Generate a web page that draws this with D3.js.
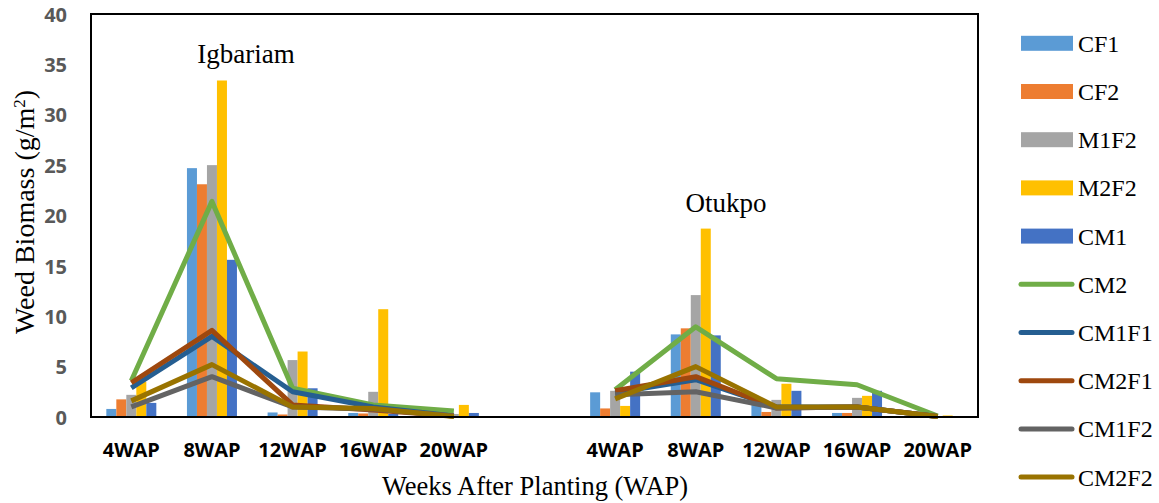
<!DOCTYPE html>
<html><head><meta charset="utf-8">
<script src="https://cdn.jsdelivr.net/npm/d3@7"></script>
<style>body{margin:0;background:#fff}</style></head>
<body><svg id="c" width="1159" height="503"></svg>
<script>
// ---- data ----
const categories = ["4WAP","8WAP","12WAP","16WAP","20WAP","","4WAP","8WAP","12WAP","16WAP","20WAP"];
const siteLabels = ["Igbariam","Otukpo"];
const yTicks = [0,5,10,15,20,25,30,35,40];

const barNames = ["CF1","CF2","M1F2","M2F2","CM1"];
const CF1  = [0.8, 24.7, 0.45, 0.4, 0.1, null, 2.45, 8.2, 1.3, 0.4, 0.05];
const CF2  = [1.75, 23.1, 0.25, 0.35, 0.1, null, 0.85, 8.8, 0.5, 0.4, 0.05];
const M1F2 = [2.2, 25.0, 5.65, 2.5, 0.3, null, 2.6, 12.1, 1.7, 1.9, 0.1];
const M2F2 = [3.5, 33.4, 6.5, 10.7, 1.2, null, 1.1, 18.7, 3.3, 2.1, 0.15];
const CM1  = [1.4, 15.6, 2.85, 0.3, 0.4, null, 4.5, 8.1, 2.6, 2.6, 0.05];

const lineNames = ["CM2","CM1F1","CM2F1","CM1F2","CM2F2"];
const CM2   = [3.6, 21.4, 2.85, 1.2, 0.6, null, 2.7, 8.95, 3.8, 3.2, 0.1];
const CM1F1 = [2.9, 8.0, 2.5, 1.0, 0.1, null, 2.4, 3.7, 1.0, 1.0, 0.05];
const CM2F1 = [3.4, 8.6, 1.2, 0.7, 0.1, null, 2.6, 4.0, 0.9, 1.0, 0.05];
const CM1F2 = [1.0, 4.0, 1.0, 0.8, 0.1, null, 2.2, 2.5, 0.9, 1.0, 0.05];
const CM2F2 = [1.6, 5.2, 1.0, 0.85, 0.05, null, 1.8, 5.0, 1.0, 1.0, 0.05];

const barColors  = ["#5B9BD5","#ED7D31","#A5A5A5","#FFC000","#4472C4"];
const lineColors = ["#70AD47","#255E91","#9E480E","#636363","#997300"];

const barSeries = [CF1,CF2,M1F2,M2F2,CM1].map((v,i)=>({name:barNames[i],values:v,color:barColors[i]}));
const lineSeries = [CM2,CM1F1,CM2F1,CM1F2,CM2F2].map((v,i)=>({name:lineNames[i],values:v,color:lineColors[i]}));

// ---- layout ----
const svg = d3.select("#c");
const m = {left:91, right:978, top:14, bottom:417};
const x = d3.scaleBand().domain(d3.range(categories.length)).range([m.left,m.right]).padding(0);
const groupW = x.bandwidth()*0.62;
const x1 = d3.scaleBand().domain(barNames).range([0,groupW]);
const y = d3.scaleLinear().domain([0,40]).range([m.bottom,m.top]);

// bars
const gBars = svg.append("g");
barSeries.forEach(s=>{
  gBars.append("g").selectAll("rect")
    .data(s.values.map((v,i)=>({v,i})).filter(d=>d.v!=null))
    .join("rect")
    .attr("x", d=>x(d.i)+(x.bandwidth()-groupW)/2+x1(s.name))
    .attr("width", x1.bandwidth())
    .attr("y", d=>y(d.v))
    .attr("height", d=>y(0)-y(d.v))
    .attr("fill", s.color);
});

// lines
const line = d3.line()
  .defined(d=>d.v!=null)
  .x(d=>x(d.i)+x.bandwidth()/2)
  .y(d=>y(d.v));
lineSeries.forEach(s=>{
  svg.append("path")
    .datum(s.values.map((v,i)=>({v,i})))
    .attr("d", line)
    .attr("fill","none")
    .attr("stroke", s.color)
    .attr("stroke-width", 5)
    .attr("stroke-linejoin","round");
});

// frame
svg.append("rect").attr("x",m.left).attr("y",m.top)
  .attr("width",m.right-m.left).attr("height",m.bottom-m.top)
  .attr("fill","none").attr("stroke","#000").attr("stroke-width",2);

// y axis
const ya = svg.append("g").attr("transform",`translate(${m.left},0)`)
  .call(d3.axisLeft(y).tickValues(yTicks).tickSize(0).tickPadding(24));
ya.select(".domain").remove();
ya.selectAll("text").attr("font-family","'Open Sans', sans-serif").attr("font-weight","bold")
  .attr("font-size","20px").attr("fill","#595959").attr("dy","0.36em");

// x axis
const xa = svg.append("g").attr("transform",`translate(0,${m.bottom})`)
  .call(d3.axisBottom(x).tickFormat(i=>categories[i]).tickSize(0));
xa.select(".domain").remove();
xa.selectAll("text").attr("font-family","'Open Sans', sans-serif").attr("font-weight","bold")
  .attr("font-size","20px").attr("fill","#000").attr("y",40).attr("dy",0);

// site titles
const serif = "'Liberation Serif', 'Times New Roman', serif";
svg.append("text").attr("x",246).attr("y",63).attr("text-anchor","middle")
  .attr("font-family",serif).attr("font-size","27px").text(siteLabels[0]);
svg.append("text").attr("x",726).attr("y",212).attr("text-anchor","middle")
  .attr("font-family",serif).attr("font-size","27px").text(siteLabels[1]);

// axis titles
svg.append("text").attr("x",535).attr("y",495).attr("text-anchor","middle")
  .attr("font-family",serif).attr("font-size","26.5px").text("Weeks After Planting (WAP)");
const yt = svg.append("text").attr("transform","translate(34,212) rotate(-90)")
  .attr("text-anchor","middle").attr("font-family",serif).attr("font-size","28px");
yt.append("tspan").text("Weed Biomass (g/m");
yt.append("tspan").attr("baseline-shift","super").attr("font-size","17px").text("2");
yt.append("tspan").text(")");

// legend
const legend = svg.append("g");
const all = barSeries.map(s=>({...s,type:"bar"})).concat(lineSeries.map(s=>({...s,type:"line"})));
all.forEach((s,i)=>{
  const cy = 43.3 + i*48.2;
  if (s.type==="bar") {
    legend.append("rect").attr("x",1021).attr("y",cy-7.5).attr("width",52).attr("height",15).attr("fill",s.color);
  } else {
    legend.append("line").attr("x1",1021).attr("x2",1072).attr("y1",cy).attr("y2",cy)
      .attr("stroke",s.color).attr("stroke-width",5).attr("stroke-linecap","round");
  }
  legend.append("text").attr("x",1078).attr("y",cy).attr("dy","0.35em")
    .attr("font-family",serif).attr("font-size","24px").text(s.name);
});
</script>
</body></html>
